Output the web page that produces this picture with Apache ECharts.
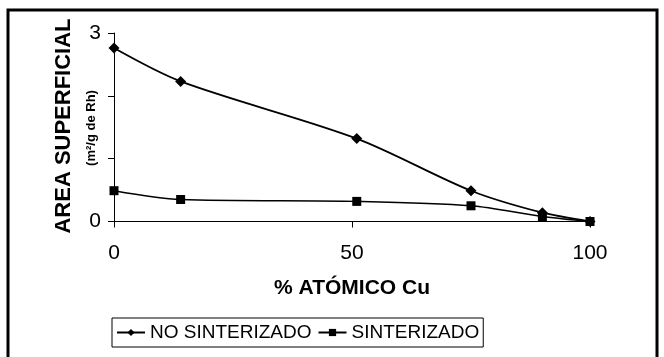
<!DOCTYPE html>
<html>
<head>
<meta charset="utf-8">
<script src="https://cdn.jsdelivr.net/npm/echarts@6/dist/echarts.min.js"></script>
<style>
  html, body { margin: 0; padding: 0; background: #fff; }
  #chart { width: 664px; height: 357px; }
</style>
</head>
<body>
<div id="chart"></div>
<script>
// % atómico de Cu (eje X)
const cuPct = [0, 14, 51, 75, 90, 100]
// área superficial (m2/g de Rh)
const noSinterizado = [2.76, 2.23, 1.32, 0.49, 0.14, 0]
const sinterizado = [0.49, 0.35, 0.32, 0.25, 0.08, 0]

const font = "'Liberation Sans', Arial, sans-serif"
const chart = echarts.init(document.getElementById("chart"))

const pairs = (ys) => cuPct.map((x, i) => [x, ys[i]])

const option = {
  backgroundColor: "#fff",
  animation: false,
  textStyle: { fontFamily: font, color: "#000" },
  grid: { left: 114, right: 74, top: 33, bottom: 135.5 },
  xAxis: {
    type: "value",
    min: 0,
    max: 100,
    interval: 50,
    name: "% ATÓMICO Cu",
    nameLocation: "middle",
    nameGap: 56,
    nameTextStyle: { fontSize: 21, fontWeight: "bold", color: "#000", fontFamily: font },
    axisLine: { lineStyle: { color: "#000", width: 1 } },
    axisTick: { show: true, length: 6, lineStyle: { color: "#000" } },
    axisLabel: { fontSize: 21, color: "#000", margin: 21, fontFamily: font },
    splitLine: { show: false }
  },
  yAxis: {
    type: "value",
    min: 0,
    max: 3,
    interval: 1,
    axisLine: { show: true, lineStyle: { color: "#000", width: 1 } },
    axisTick: { show: true, length: 6, lineStyle: { color: "#000" } },
    axisLabel: {
      fontSize: 21,
      color: "#000",
      margin: 13,
      fontFamily: font,
      formatter: (v) => (v === 0 || v === 3 ? String(v) : "")
    },
    splitLine: { show: false }
  },
  legend: {
    left: 112,
    top: 318,
    orient: "horizontal",
    borderColor: "#000",
    borderWidth: 1,
    padding: [5, 4],
    itemGap: 6,
    itemWidth: 28,
    itemHeight: 9,
    textStyle: { fontSize: 19, color: "#000", fontFamily: font },
    data: ["NO SINTERIZADO", "SINTERIZADO"]
  },
  graphic: [
    {
      type: "rect",
      shape: { x: 8, y: 10, width: 649, height: 370 },
      style: { fill: "none", stroke: "#000", lineWidth: 3 },
      silent: true
    },
    {
      type: "text",
      x: 64,
      y: 126,
      rotation: Math.PI / 2,
      style: {
        text: "AREA SUPERFICIAL",
        font: "bold 22px " + font,
        fill: "#000",
        align: "center",
        verticalAlign: "middle"
      }
    },
    {
      type: "text",
      x: 91,
      y: 128,
      rotation: Math.PI / 2,
      style: {
        text: "(m²/g de Rh)",
        font: "bold 13px " + font,
        fill: "#000",
        align: "center",
        verticalAlign: "middle"
      }
    }
  ],
  series: [
    {
      name: "NO SINTERIZADO",
      type: "line",
      smooth: 0.3,
      symbol: "diamond",
      symbolSize: 11,
      itemStyle: { color: "#000" },
      lineStyle: { color: "#000", width: 1.8 },
      data: pairs(noSinterizado)
    },
    {
      name: "SINTERIZADO",
      type: "line",
      smooth: 0.3,
      symbol: "rect",
      symbolSize: 9,
      itemStyle: { color: "#000" },
      lineStyle: { color: "#000", width: 1.4 },
      data: pairs(sinterizado)
    }
  ]
}

chart.setOption(option)
</script>
</body>
</html>
